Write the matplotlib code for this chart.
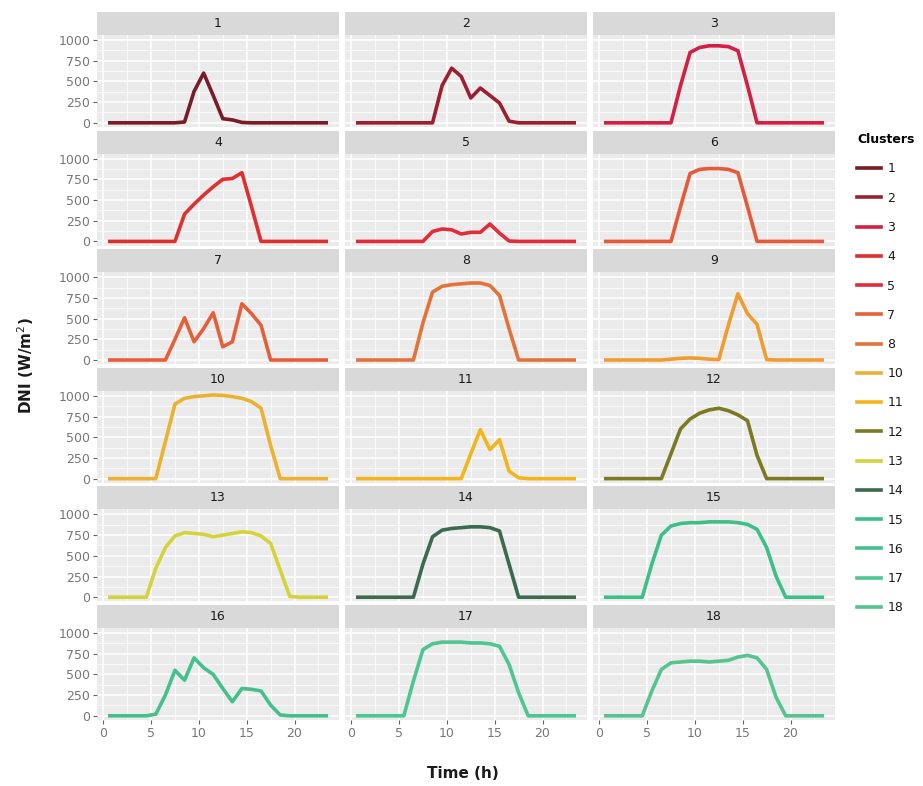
import matplotlib
matplotlib.use('Agg')
matplotlib.rcParams.update({'font.size': 9, 'font.family': 'DejaVu Sans'})

from matplotlib import pyplot as plt
from matplotlib.lines import Line2D
from matplotlib.ticker import MultipleLocator
import numpy as np

# hourly mean DNI per cluster (hour centres 0.5 .. 23.5)
hours = np.arange(24) + 0.5

c1 = [0, 0, 0, 0, 0, 0, 0, 0, 10, 380, 600, 330, 50, 35, 5, 0, 0, 0, 0, 0, 0, 0, 0, 0]
c2 = [0, 0, 0, 0, 0, 0, 0, 0, 0, 450, 660, 560, 300, 420, 330, 240, 20, 0, 0, 0, 0, 0, 0, 0]
c3 = [0, 0, 0, 0, 0, 0, 0, 0, 450, 850, 910, 930, 930, 920, 870, 450, 0, 0, 0, 0, 0, 0, 0, 0]
c4 = [0, 0, 0, 0, 0, 0, 0, 0, 330, 450, 560, 660, 750, 760, 830, 420, 0, 0, 0, 0, 0, 0, 0, 0]
c5 = [0, 0, 0, 0, 0, 0, 0, 0, 120, 150, 140, 90, 110, 110, 210, 100, 5, 0, 0, 0, 0, 0, 0, 0]
c6 = [0, 0, 0, 0, 0, 0, 0, 0, 420, 820, 870, 880, 880, 870, 830, 420, 0, 0, 0, 0, 0, 0, 0, 0]
c7 = [0, 0, 0, 0, 0, 0, 0, 250, 510, 220, 380, 570, 160, 220, 680, 560, 420, 0, 0, 0, 0, 0, 0, 0]
c8 = [0, 0, 0, 0, 0, 0, 0, 450, 820, 890, 910, 920, 930, 930, 900, 780, 380, 0, 0, 0, 0, 0, 0, 0]
c9 = [0, 0, 0, 0, 0, 0, 0, 10, 20, 25, 20, 10, 5, 420, 800, 560, 430, 5, 0, 0, 0, 0, 0, 0]
c10 = [0, 0, 0, 0, 0, 0, 450, 900, 970, 990, 1000, 1010, 1005, 990, 970, 930, 850, 400, 0, 0, 0, 0, 0, 0]
c11 = [0, 0, 0, 0, 0, 0, 0, 0, 0, 0, 0, 0, 300, 590, 350, 470, 90, 10, 0, 0, 0, 0, 0, 0]
c12 = [0, 0, 0, 0, 0, 0, 0, 300, 600, 720, 790, 830, 850, 820, 770, 700, 280, 0, 0, 0, 0, 0, 0, 0]
c13 = [0, 0, 0, 0, 0, 350, 600, 740, 780, 770, 760, 730, 750, 770, 790, 780, 740, 650, 330, 10, 0, 0, 0, 0]
c14 = [0, 0, 0, 0, 0, 0, 0, 400, 730, 810, 830, 840, 850, 850, 840, 800, 400, 0, 0, 0, 0, 0, 0, 0]
c15 = [0, 0, 0, 0, 0, 400, 750, 860, 890, 900, 900, 910, 910, 910, 900, 880, 820, 600, 250, 0, 0, 0, 0, 0]
c16 = [0, 0, 0, 0, 0, 20, 250, 550, 430, 700, 580, 500, 330, 170, 330, 320, 300, 130, 10, 0, 0, 0, 0, 0]
c17 = [0, 0, 0, 0, 0, 0, 420, 800, 870, 890, 890, 890, 880, 880, 870, 840, 620, 280, 0, 0, 0, 0, 0, 0]
c18 = [0, 0, 0, 0, 0, 300, 560, 640, 650, 660, 660, 650, 660, 670, 710, 730, 700, 560, 220, 0, 0, 0, 0, 0]

clusters = [c1, c2, c3, c4, c5, c6, c7, c8, c9, c10, c11, c12, c13, c14, c15, c16, c17, c18]
cluster_names = [str(i) for i in range(1, 19)]
cluster_colors = ['#7a1c28', '#9c1f30', '#d21f43', '#e0302e', '#e32b3a', '#e65a3a',
                  '#e5603a', '#e2733a', '#f09c30', '#ecb131', '#f2b51c', '#7b7a22',
                  '#d6d33a', '#3b6a4f', '#3dbf8a', '#45c08c', '#4ec690', '#56c48f']
# the original legend skips 6 and 9
legend_names = ['1', '2', '3', '4', '5', '7', '8', '10', '11', '12', '13', '14', '15', '16', '17', '18']

W, H = 923, 786
fig = plt.figure(figsize=(W / 100, H / 100), dpi=100)

col_left = [97, 345, 593]
panel_w = 242
row_pitch = 118.6
strip_h = 23
panel_h = 92

for k, vals in enumerate(clusters):
    r, c = divmod(k, 3)
    top = 12 + row_pitch * r
    x0 = col_left[c] / W

    sax = fig.add_axes([x0, 1 - (top + strip_h) / H, panel_w / W, strip_h / H])
    sax.set_facecolor('#d9d9d9')
    sax.set_xticks([])
    sax.set_yticks([])
    for s in sax.spines.values():
        s.set_visible(False)
    sax.text(0.5, 0.5, cluster_names[k], ha='center', va='center',
             color='#1a1a1a', fontsize=9, transform=sax.transAxes)

    ax = fig.add_axes([x0, 1 - (top + strip_h + panel_h) / H, panel_w / W, panel_h / H])
    ax.set_facecolor('#ebebeb')
    ax.plot(hours, vals, color=cluster_colors[k], lw=2.6, solid_capstyle='butt', zorder=3)
    ax.set_xlim(-0.65, 24.65)
    ax.set_ylim(-50.5, 1060.5)
    ax.xaxis.set_major_locator(MultipleLocator(5))
    ax.xaxis.set_minor_locator(MultipleLocator(2.5))
    ax.yaxis.set_major_locator(MultipleLocator(250))
    ax.yaxis.set_minor_locator(MultipleLocator(125))
    ax.grid(which='major', color='white', lw=1.1)
    ax.grid(which='minor', color='white', lw=0.5)
    ax.set_axisbelow(True)
    for s in ax.spines.values():
        s.set_visible(False)
    ax.tick_params(which='minor', length=0)
    ax.tick_params(which='major', length=3, color='#666666', labelcolor='#777777',
                   labelsize=9, pad=2)
    if r < 5:
        ax.tick_params(axis='x', labelbottom=False, length=0)
    if c > 0:
        ax.tick_params(axis='y', labelleft=False, length=0)

fig.text(26 / W, 1 - 366 / H, 'DNI (W/m$^2$)', rotation=90, ha='center', va='center',
         fontsize=11, fontweight='bold', color='#1a1a1a')
fig.text(463 / W, 1 - 773 / H, 'Time (h)', ha='center', va='center',
         fontsize=11, fontweight='bold', color='#1a1a1a')

name_to_color = dict(zip(cluster_names, cluster_colors))
handles = [Line2D([], [], color=name_to_color[n], lw=2.6) for n in legend_names]
leg = fig.legend(handles, legend_names, loc='upper left',
                 bbox_to_anchor=(846 / W, 1 - 122 / H), frameon=False,
                 title='Clusters', title_fontproperties={'weight': 'bold', 'size': 9},
                 handlelength=1.9, labelspacing=1.3, handletextpad=0.5, fontsize=9)
leg._legend_box.align = 'left'
for t in leg.get_texts():
    t.set_color('#1a1a1a')

plt.savefig('out.png', dpi=100)
